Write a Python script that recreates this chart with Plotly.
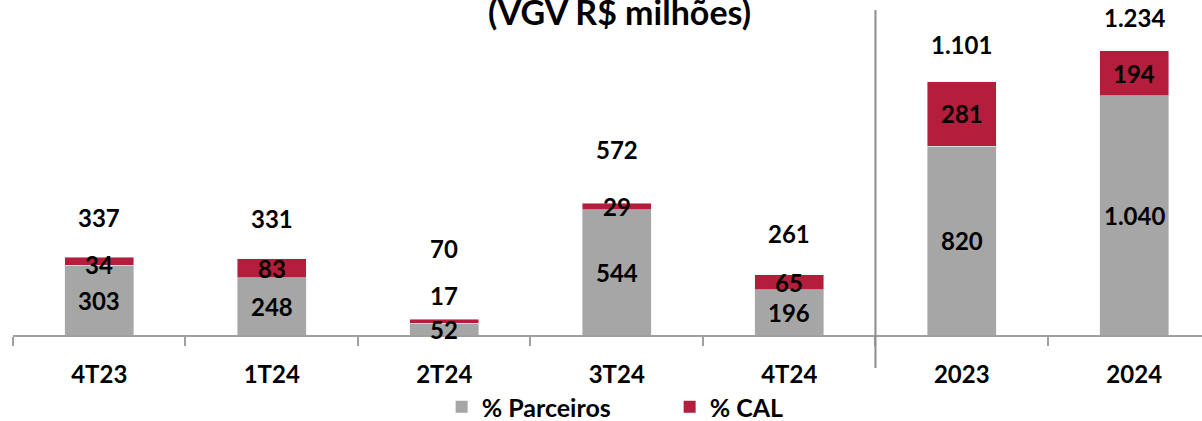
import plotly.graph_objects as go

categories = ["4T23", "1T24", "2T24", "3T24", "4T24", "2023", "2024"]
parceiros = [303, 248, 52, 544, 196, 820, 1040]
cal = [34, 83, 17, 29, 65, 281, 194]
totals = [337, 331, 70, 572, 261, 1101, 1234]

GRAY = "#A6A6A6"
RED = "#B41E3C"
FONT = "Lato"

# label offsets in px (layout only)
total_shift = [40, 40, 70, 54, 41, 37, 33]
cal_shift = [-3, 0, 26, 0, 0, 0, 0]


def fmt(v):
    return f"{v:,}".replace(",", ".")


fig = go.Figure()
fig.add_trace(go.Bar(x=categories, y=parceiros, name="% Parceiros", marker_color=GRAY,
                     width=0.4, showlegend=False))
fig.add_trace(go.Bar(x=categories, y=cal, name="% CAL", marker_color=RED,
                     width=0.4, showlegend=False))
# legend swatches
fig.add_trace(go.Scatter(x=[None], y=[None], mode="markers", name="% Parceiros",
                         marker=dict(symbol="square", size=15, color=GRAY)))
fig.add_trace(go.Scatter(x=[None], y=[None], mode="markers", name="% CAL",
                         marker=dict(symbol="square", size=15, color=RED)))

lab_font = dict(family=FONT, size=24, color="black", weight="bold")
for i in range(len(categories)):
    fig.add_annotation(x=i, y=parceiros[i] / 2, text=fmt(parceiros[i]), showarrow=False, font=lab_font)
    fig.add_annotation(x=i, y=parceiros[i] + cal[i] / 2, yshift=cal_shift[i],
                       text=fmt(cal[i]), showarrow=False, font=lab_font)
    fig.add_annotation(x=i, y=totals[i], yshift=total_shift[i], yanchor="middle",
                       text=fmt(totals[i]), showarrow=False, font=lab_font)

fig.add_annotation(xref="paper", yref="paper", x=0.51, y=0.967, yanchor="middle",
                   text="(VGV R$ milhões)", showarrow=False,
                   font=dict(family=FONT, size=34, color="black", weight="bold"))

fig.add_shape(type="line", xref="x", yref="paper", x0=4.5, x1=4.5, y0=-0.0985, y1=0.97,
              line=dict(color="#8C8C8C", width=2))

fig.update_layout(
    barmode="stack",
    width=1202, height=421,
    margin=dict(l=13, r=0, t=0, b=86, autoexpand=False),
    plot_bgcolor="white", paper_bgcolor="white",
    font=dict(family=FONT, color="black"),
    showlegend=True,
    legend=dict(orientation="h", x=0.3605, xanchor="left", y=-0.215, yanchor="middle",
                traceorder="normal", bgcolor="rgba(0,0,0,0)",
                font=dict(family=FONT, size=25, color="black", weight="bold"),
                entrywidth=183, itemsizing="constant"),
    xaxis=dict(range=[-0.5, 6.393], showline=True, linecolor="#A0A0A0", linewidth=2,
               ticks="outside", tickson="boundaries", ticklen=9, tickcolor="#A0A0A0", tickwidth=2,
               tickfont=dict(family=FONT, size=24, color="black", weight="bold"),
               ticklabelstandoff=17, showgrid=False, automargin=False),
    yaxis=dict(range=[0, 1455], visible=False, showgrid=False, automargin=False),
)

# drop the default 8px page margin so the figure fills the window
fig.write_html("out.html", config={"displayModeBar": False},
               post_script="document.body.style.margin='0px';")
